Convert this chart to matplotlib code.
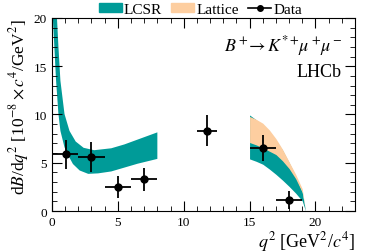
import numpy as np
import matplotlib
matplotlib.use('Agg')
import matplotlib.pyplot as plt
from matplotlib.patches import Patch
from matplotlib.lines import Line2D
from matplotlib.ticker import MultipleLocator

plt.rcParams['font.family'] = ['Liberation Serif', 'DejaVu Serif']
plt.rcParams['mathtext.fontset'] = 'stix'

# Data points (bin centres, half widths, values, errors)
q2_data = [1.05, 3.0, 5.0, 7.0, 11.75, 16.0, 18.0]
q2_halfw = [0.95, 1.0, 1.0, 1.0, 0.75, 1.0, 1.0]
dB_data = [5.9, 5.6, 2.5, 3.3, 8.3, 6.5, 1.15]
dB_err = [1.5, 1.6, 1.1, 1.2, 1.6, 1.35, 0.95]

# LCSR band, low q2 (lower and upper edges)
q2_lcsr_min = [0.05, 0.18, 0.31, 0.49, 0.64, 0.95, 1.3, 1.59, 2.1, 2.75, 3.5, 4.5, 5.5, 6.5, 8.0]
lcsr_lo_min = [20.5, 17.0, 13.5, 10.05, 8.3, 6.6, 5.6, 4.87, 4.2, 3.85, 3.9, 4.1, 4.5, 4.9, 5.4]
q2_lcsr_max = [0.36, 0.49, 0.64, 0.95, 1.33, 1.8, 2.4, 3.2, 4.5, 5.5, 6.5, 8.0]
lcsr_lo_max = [20.5, 17.0, 13.5, 10.05, 8.3, 7.2, 6.55, 6.3, 6.5, 6.9, 7.4, 8.15]

# high q2 bands
q2_hi = [15.0, 15.5, 16.0, 16.5, 17.0, 17.5, 18.0, 18.5, 19.0, 19.25]
lcsr_hi_min = [5.4, 5.15, 4.85, 4.35, 3.8, 3.2, 2.55, 1.85, 1.05, 0.0]
lcsr_hi_max = [9.95, 9.45, 8.8, 8.1, 7.3, 6.3, 5.0, 3.6, 1.95, 0.0]
latt_min = [7.1, 6.85, 6.55, 6.2, 5.85, 5.2, 4.4, 3.35, 1.95, 0.0]
latt_max = [9.8, 9.5, 9.1, 8.4, 7.5, 6.4, 5.1, 3.8, 2.3, 0.0]

teal = '#009b98'
orange = '#fdcea0'

fig = plt.figure(figsize=(3.74, 2.53), dpi=100)
ax = fig.add_axes([0.139, 0.162, 0.81, 0.763])

ax.fill(np.concatenate([q2_lcsr_min, q2_lcsr_max[::-1]]),
        np.concatenate([lcsr_lo_min, lcsr_lo_max[::-1]]), color=teal, lw=0)
ax.fill_between(q2_hi, lcsr_hi_min, lcsr_hi_max, color=teal, lw=0)
ax.fill_between(q2_hi, latt_min, latt_max, color=orange, lw=0)
ax.errorbar(q2_data, dB_data, xerr=q2_halfw, yerr=dB_err, fmt='o', color='black',
            ms=5, elinewidth=1.3, capsize=0)

ax.set_xlim(0, 23)
ax.set_ylim(0, 20)
ax.xaxis.set_major_locator(MultipleLocator(5))
ax.xaxis.set_minor_locator(MultipleLocator(1))
ax.yaxis.set_major_locator(MultipleLocator(5))
ax.yaxis.set_minor_locator(MultipleLocator(1))
ax.tick_params(which='both', direction='in', top=True, right=True, labelsize=9.5)
ax.tick_params(which='major', length=7)
ax.tick_params(which='minor', length=3.5)

ax.set_xlabel(r'$q^2$ [GeV$^2$/$c^4$]', fontsize=13, loc='right', labelpad=1)
ax.set_ylabel(r'd$B$/d$q^2$ [10$^{-8}\times c^4$/GeV$^2$]', fontsize=12.5, loc='top', labelpad=2)

ax.text(0.96, 0.83, r'$B^+\!\!\rightarrow K^{*+}\!\mu^+\!\mu^-$', transform=ax.transAxes,
        ha='right', va='baseline', fontsize=13)
ax.text(0.955, 0.70, 'LHCb', transform=ax.transAxes, ha='right', va='baseline', fontsize=13)

handles = [Patch(color=teal), Patch(color=orange),
           Line2D([], [], color='black', marker='o', ms=4, lw=1.2)]
ax.legend(handles, ['LCSR', 'Lattice', 'Data'], loc='lower center', bbox_to_anchor=(0.49, 0.995),
          ncol=3, frameon=False, fontsize=11, handlelength=1.5, handleheight=0.6,
          handletextpad=0.15, columnspacing=0.6, borderpad=0, borderaxespad=0.2)

plt.savefig('out.png', dpi=100)
